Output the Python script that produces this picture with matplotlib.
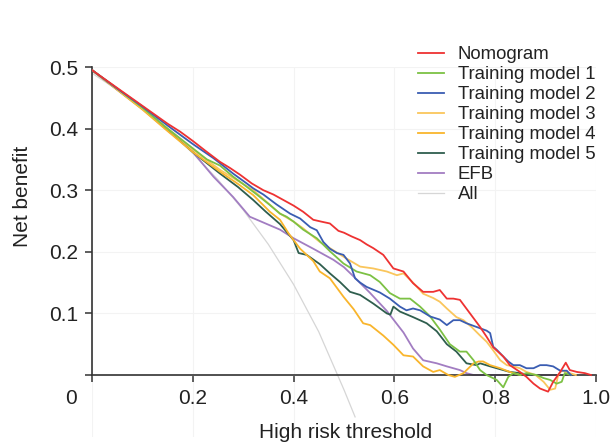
import numpy as np
import matplotlib.pyplot as plt

plt.rcParams['font.family'] = ['Liberation Sans', 'DejaVu Sans']

# Nomogram
t_nomo = [0, 0.05, 0.1, 0.15, 0.175, 0.2, 0.225, 0.254, 0.274, 0.294, 0.317, 0.34, 0.36, 0.38, 0.4, 0.419,
          0.439, 0.455, 0.472, 0.489, 0.5, 0.515, 0.532, 0.545, 0.558, 0.578, 0.598, 0.618, 0.637, 0.657,
          0.677, 0.69, 0.704, 0.717, 0.73, 0.75, 0.77, 0.783, 0.796, 0.816, 0.829, 0.849, 0.862, 0.876,
          0.889, 0.905, 0.915, 0.929, 0.94, 0.948, 0.962, 0.978, 0.99]
nb_nomo = [0.495, 0.466, 0.437, 0.408, 0.395, 0.38, 0.364, 0.346, 0.336, 0.325, 0.311, 0.3, 0.293, 0.284,
           0.275, 0.265, 0.252, 0.249, 0.246, 0.234, 0.231, 0.225, 0.219, 0.212, 0.206, 0.195, 0.173, 0.168,
           0.149, 0.135, 0.135, 0.138, 0.124, 0.124, 0.122, 0.1, 0.078, 0.062, 0.045, 0.03, 0.016, 0.005,
           -0.003, -0.014, -0.022, -0.027, -0.011, 0.005, 0.02, 0.008, 0.005, 0.003, 0.0]

# Training model 1
t_m1 = [0, 0.05, 0.1, 0.15, 0.2, 0.228, 0.254, 0.28, 0.3, 0.327, 0.353, 0.373, 0.386, 0.4, 0.419, 0.446,
        0.472, 0.499, 0.525, 0.552, 0.571, 0.591, 0.611, 0.631, 0.651, 0.671, 0.69, 0.71, 0.73, 0.743,
        0.757, 0.77, 0.783, 0.803, 0.816, 0.826, 0.836, 0.849, 0.862, 0.882, 0.896, 0.909, 0.922, 0.932,
        0.938, 0.95]
nb_m1 = [0.495, 0.465, 0.434, 0.4, 0.368, 0.35, 0.34, 0.322, 0.31, 0.293, 0.276, 0.262, 0.257, 0.249,
         0.236, 0.222, 0.201, 0.181, 0.168, 0.162, 0.151, 0.133, 0.124, 0.124, 0.111, 0.095, 0.074, 0.05,
         0.038, 0.038, 0.024, 0.008, 0.0, -0.008, -0.02, -0.003, 0.003, 0.0, 0.003, 0.0, -0.005, -0.008,
         -0.014, -0.011, 0.003, 0.0]

# Training model 2
t_m2 = [0, 0.05, 0.1, 0.15, 0.175, 0.2, 0.241, 0.26, 0.28, 0.307, 0.32, 0.34, 0.366, 0.393, 0.413, 0.433,
        0.446, 0.459, 0.472, 0.486, 0.499, 0.512, 0.522, 0.532, 0.545, 0.571, 0.591, 0.611, 0.624, 0.637,
        0.651, 0.671, 0.69, 0.704, 0.717, 0.73, 0.743, 0.763, 0.783, 0.79, 0.796, 0.803, 0.816, 0.826,
        0.836, 0.849, 0.862, 0.876, 0.889, 0.902, 0.915, 0.929, 0.942, 0.95]
nb_m2 = [0.495, 0.465, 0.436, 0.405, 0.39, 0.375, 0.352, 0.34, 0.327, 0.311, 0.303, 0.293, 0.277, 0.262,
         0.254, 0.24, 0.235, 0.216, 0.205, 0.198, 0.195, 0.181, 0.157, 0.15, 0.143, 0.134, 0.124, 0.111,
         0.105, 0.108, 0.105, 0.095, 0.09, 0.081, 0.089, 0.089, 0.084, 0.078, 0.072, 0.068, 0.046, 0.041,
         0.03, 0.022, 0.016, 0.016, 0.011, 0.011, 0.016, 0.016, 0.014, 0.007, 0.007, 0.0]

# Training model 3
t_m3 = [0, 0.05, 0.1, 0.15, 0.2, 0.254, 0.29, 0.32, 0.345, 0.373, 0.4, 0.419, 0.452, 0.472, 0.505, 0.532,
        0.558, 0.585, 0.605, 0.618, 0.637, 0.657, 0.677, 0.69, 0.704, 0.723, 0.737, 0.753, 0.77, 0.783,
        0.796, 0.81, 0.823, 0.836, 0.849, 0.862, 0.88, 0.896, 0.909, 0.919, 0.925, 0.932, 0.948, 0.96]
nb_m3 = [0.495, 0.464, 0.433, 0.4, 0.366, 0.333, 0.315, 0.3, 0.282, 0.262, 0.249, 0.238, 0.216, 0.206,
         0.189, 0.176, 0.173, 0.168, 0.162, 0.165, 0.15, 0.132, 0.125, 0.119, 0.108, 0.094, 0.089, 0.078,
         0.064, 0.054, 0.04, 0.024, 0.016, 0.014, 0.011, 0.005, 0.0, -0.011, -0.024, -0.022, 0.0, 0.007,
         0.003, 0.0]

# Training model 4
t_m4 = [0, 0.05, 0.1, 0.15, 0.2, 0.254, 0.29, 0.32, 0.353, 0.373, 0.39, 0.413, 0.439, 0.452, 0.472, 0.499,
        0.519, 0.538, 0.552, 0.578, 0.598, 0.618, 0.637, 0.657, 0.677, 0.69, 0.707, 0.72, 0.737, 0.757,
        0.767, 0.776, 0.79, 0.81, 0.829, 0.85]
nb_m4 = [0.495, 0.463, 0.431, 0.396, 0.362, 0.33, 0.31, 0.292, 0.265, 0.252, 0.23, 0.205, 0.185, 0.168,
         0.157, 0.127, 0.107, 0.084, 0.081, 0.064, 0.049, 0.032, 0.03, 0.014, 0.005, 0.008, 0.0, -0.003,
         0.003, 0.019, 0.022, 0.022, 0.016, 0.011, 0.005, 0.0]

# Training model 5
t_m5 = [0, 0.05, 0.1, 0.15, 0.2, 0.254, 0.29, 0.32, 0.345, 0.373, 0.4, 0.41, 0.426, 0.452, 0.472, 0.492,
        0.512, 0.532, 0.558, 0.585, 0.592, 0.598, 0.611, 0.637, 0.664, 0.684, 0.704, 0.723, 0.743, 0.763,
        0.77, 0.79, 0.803, 0.829, 0.849, 0.87]
nb_m5 = [0.495, 0.464, 0.433, 0.398, 0.362, 0.327, 0.305, 0.284, 0.265, 0.245, 0.219, 0.198, 0.195, 0.18,
         0.165, 0.151, 0.135, 0.13, 0.116, 0.1, 0.098, 0.111, 0.103, 0.094, 0.084, 0.071, 0.05, 0.038,
         0.019, 0.016, 0.019, 0.014, 0.011, 0.005, 0.003, 0.0]

# EFB
t_efb = [0, 0.05, 0.1, 0.15, 0.175, 0.2, 0.241, 0.28, 0.313, 0.333, 0.373, 0.4, 0.439, 0.479, 0.5, 0.519,
         0.552, 0.585, 0.6, 0.618, 0.637, 0.657, 0.684, 0.704, 0.73, 0.743, 0.757, 0.8, 0.85, 0.9, 0.95]
nb_efb = [0.495, 0.463, 0.432, 0.397, 0.381, 0.362, 0.322, 0.289, 0.257, 0.25, 0.236, 0.222, 0.205, 0.187,
          0.175, 0.16, 0.133, 0.104, 0.088, 0.069, 0.043, 0.024, 0.019, 0.014, 0.008, 0.003, 0.0, 0.0, 0.0,
          0.0, 0.0]

# All
t_all = [0, 0.05, 0.1, 0.15, 0.2, 0.25, 0.3, 0.35, 0.4, 0.45, 0.5, 0.522]
nb_all = [0.49, 0.463, 0.432, 0.398, 0.36, 0.317, 0.268, 0.212, 0.147, 0.07, -0.024, -0.068]

series = [
    ('Nomogram', t_nomo, nb_nomo, '#EE3232', 1.3),
    ('Training model 1', t_m1, nb_m1, '#7CC144', 1.3),
    ('Training model 2', t_m2, nb_m2, '#3A5DB2', 1.3),
    ('Training model 3', t_m3, nb_m3, '#FAC65C', 1.3),
    ('Training model 4', t_m4, nb_m4, '#F9B52C', 1.3),
    ('Training model 5', t_m5, nb_m5, '#2F5E4E', 1.3),
    ('EFB', t_efb, nb_efb, '#A27DC2', 1.3),
    ('All', t_all, nb_all, '#D6D6D6', 0.9),
]

fig = plt.figure(figsize=(6.14, 4.42), dpi=100)
ax = fig.add_axes([0.1498, 0.0122, 0.8209, 0.8362])

handles = {}
zorders = {'All': 1, 'EFB': 2, 'Training model 5': 3, 'Training model 4': 4, 'Training model 3': 5,
           'Training model 1': 6, 'Training model 2': 7, 'Nomogram': 8}
for name, t, nb, c, lw in series:
    h, = ax.plot(t, nb, color=c, lw=lw, label=name, zorder=zorders[name])
    handles[name] = h

ax.set_xlim(0, 1.0)
ax.set_ylim(-0.1, 0.5)

ax.spines['top'].set_visible(False)
ax.spines['right'].set_visible(False)
ax.spines['bottom'].set_position(('data', 0))
ax.spines['left'].set_bounds(0, 0.5)
for s in ['bottom', 'left']:
    ax.spines[s].set_color('#333333')
    ax.spines[s].set_linewidth(1.2)

ax.set_xticks([0, 0.2, 0.4, 0.6, 0.8, 1.0])
ax.set_xticklabels(['', '0.2', '0.4', '0.6', '0.8', '1.0'])
ax.set_yticks([0, 0.1, 0.2, 0.3, 0.4, 0.5])
ax.set_yticklabels(['', '0.1', '0.2', '0.3', '0.4', '0.5'])
ax.tick_params(axis='both', direction='out', length=5, width=1.1, color='#333333',
               labelsize=15, labelcolor='#222222', pad=5)
ax.annotate('0', xy=(0, 0), xycoords='data', xytext=(-15, -10), textcoords='offset points',
            ha='center', va='top', fontsize=15, color='#222222')

ax.grid(True, color='#f3f3f3', lw=0.8)
ax.set_axisbelow(True)

fig.text(0.562, 0.022, 'High risk threshold', ha='center', va='center', fontsize=15, color='#222222')
fig.text(0.036, 0.555, 'Net benefit', ha='center', va='center', rotation=90, fontsize=15, color='#222222')

order = ['Nomogram', 'Training model 1', 'Training model 2', 'Training model 3',
         'Training model 4', 'Training model 5', 'EFB', 'All']
leg = fig.legend([handles[n] for n in order], order, loc='upper left',
                 bbox_to_anchor=(0.680, 0.895), frameon=False, fontsize=13.4,
                 handlelength=1.4, handletextpad=0.75, labelspacing=0.16,
                 borderpad=0, borderaxespad=0)
for txt in leg.get_texts():
    txt.set_color('#222222')

fig.savefig('out.png', dpi=100)
